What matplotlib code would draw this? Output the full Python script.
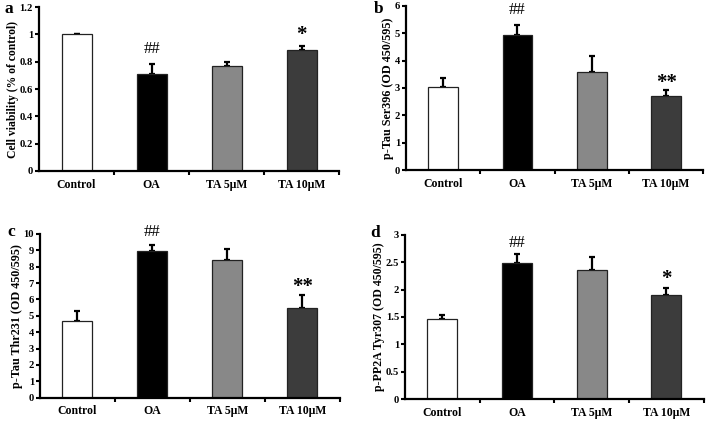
import numpy as np
import matplotlib.pyplot as plt

plt.rcParams['font.family'] = ['Liberation Serif', 'DejaVu Serif']

# Daten
groups = ["Control", "OA", "TA 5\u03bcM", "TA 10\u03bcM"]
bar_colors = ["#ffffff", "#000000", "#888888", "#3c3c3c"]

viability = [1.00, 0.71, 0.77, 0.885]
viability_err = [0.005, 0.075, 0.03, 0.03]

tau396 = [3.04, 4.95, 3.60, 2.72]
tau396_err = [0.34, 0.35, 0.58, 0.19]

tau231 = [4.70, 8.98, 8.43, 5.45]
tau231_err = [0.60, 0.35, 0.63, 0.80]

pp2a = [1.46, 2.48, 2.36, 1.90]
pp2a_err = [0.08, 0.17, 0.24, 0.13]

# (Text, Gruppenindex, y-Position)
marks_a = [("##", 1, 0.89), ("*", 3, 0.995)]
marks_b = [("##", 1, 5.85), ("**", 3, 3.2)]
marks_c = [("##", 1, 10.15), ("**", 3, 6.75)]
marks_d = [("##", 1, 2.86), ("*", 3, 2.2)]

W, H = 708, 422


def panel(fig, rect, vals, errs, ymax, yticks, yticklabels, ylabel, ylab_size,
          letter, letter_px, marks):
    ax = fig.add_axes(rect)
    x = np.arange(len(vals)) + 0.5
    ax.bar(x, vals, width=0.4, color=bar_colors, edgecolor="#222222", linewidth=0.9, zorder=2)
    ax.errorbar(x, vals, yerr=[np.zeros(len(errs)), errs], fmt="none", ecolor="black",
                elinewidth=1.6, capsize=2.2, capthick=1.6, zorder=1)
    ax.set_xlim(0, 4)
    ax.set_ylim(0, ymax)
    ax.set_xticks([1, 2, 3, 4])
    ax.set_xticklabels([])
    ax.set_xticks(x, minor=True)
    ax.set_xticklabels(groups, minor=True, fontsize=8.5, fontweight="bold")
    ax.tick_params(axis="x", which="minor", length=0, pad=5.5)
    ax.tick_params(axis="x", which="major", length=3, width=1.5, direction="out")
    ax.set_yticks(yticks)
    ax.set_yticklabels(yticklabels, fontsize=7.6, fontweight="bold")
    ax.tick_params(axis="y", length=2.8, width=1.5, pad=1.5)
    for s in ["top", "right"]:
        ax.spines[s].set_visible(False)
    for s in ["left", "bottom"]:
        ax.spines[s].set_linewidth(1.6)
    ax.set_ylabel(ylabel, fontsize=ylab_size, fontweight="bold", labelpad=0.5)
    fig.text(letter_px[0] / W, 1 - letter_px[1] / H, letter, fontsize=12.5,
             fontweight="bold", ha="center", va="center")
    for txt, i, yv in marks:
        if txt.startswith("#"):
            ax.text(x[i], yv, txt, ha="center", va="center", fontsize=12, clip_on=False)
        else:
            ax.text(x[i], yv, txt, ha="center", va="center", fontsize=15,
                    fontweight="bold", clip_on=False)
    return ax


fig = plt.figure(figsize=(7.08, 4.22), dpi=100)

panel(fig, [0.0551, 0.595, 0.424, 0.388], viability, viability_err, 1.2,
      [0, 0.2, 0.4, 0.6, 0.8, 1.0, 1.2], ["0", "0.2", "0.4", "0.6", "0.8", "1", "1.2"],
      "Cell viability (% of control)", 8.4, "a", (9, 9), marks_a)
panel(fig, [0.5734, 0.597, 0.420, 0.389], tau396, tau396_err, 6,
      range(0, 7), [str(v) for v in range(0, 7)],
      "p-Tau Ser396 (OD 450/595)", 8.7, "b", (379, 9), marks_b)
panel(fig, [0.0565, 0.0576, 0.4235, 0.388], tau231, tau231_err, 10,
      range(0, 11), [str(v) for v in range(0, 11)],
      "p-Tau Thr231 (OD 450/595)", 8.7, "c", (11, 232), marks_c)
panel(fig, [0.572, 0.0545, 0.422, 0.389], pp2a, pp2a_err, 3,
      [0, 0.5, 1, 1.5, 2, 2.5, 3], ["0", "0.5", "1", "1.5", "2", "2.5", "3"],
      "p-PP2A Tyr307 (OD 450/595)", 8.6, "d", (375, 233), marks_d)

fig.savefig("out.png", dpi=100)
